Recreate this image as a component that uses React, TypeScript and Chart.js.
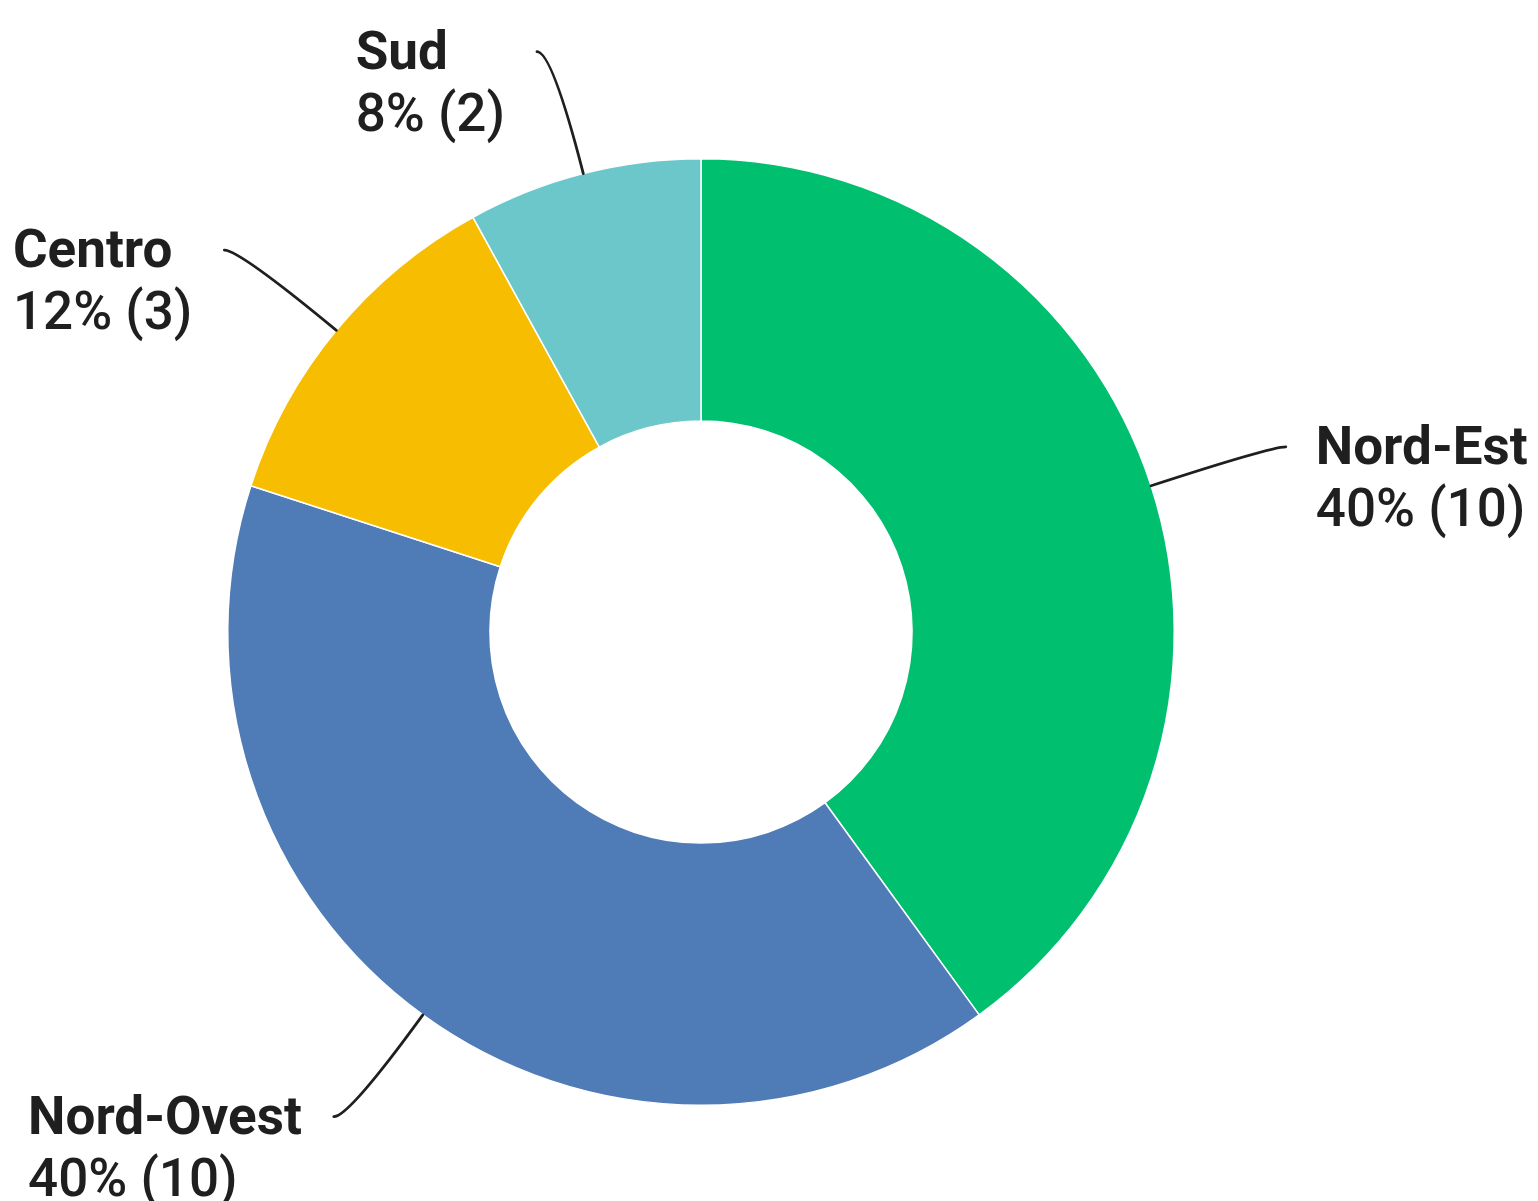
import React, { useEffect, useRef } from "react";
import { Chart, registerables } from "chart.js";

Chart.register(...registerables);

const categories = ["Nord-Est", "Nord-Ovest", "Centro", "Sud"];
const values = [10, 10, 3, 2];
const colors = ["#00BF6F", "#4F7BB6", "#F7BD00", "#6CC7CB"];

const FONT = "Roboto, 'Noto Sans', sans-serif";
const SIZE = 53;

const leaderPlugin = {
  id: "leaderLabels",
  afterDraw(chart: any) {
    const ctx = chart.ctx as CanvasRenderingContext2D;
    const meta = chart.getDatasetMeta(0);
    const data = chart.data.datasets[0].data as number[];
    const total = data.reduce((a, b) => a + b, 0);
    meta.data.forEach((arc: any, i: number) => {
      const { x, y, startAngle, endAngle, outerRadius } = arc.getProps(
        ["x", "y", "startAngle", "endAngle", "outerRadius"],
        true
      );
      const mid = (startAngle + endAngle) / 2;
      const dx = Math.cos(mid);
      const dy = Math.sin(mid);
      const side = dx >= 0 ? 1 : -1;
      const R = outerRadius;
      const rE = R * 1.266;
      const p0x = x + R * dx;
      const p0y = y + R * dy;
      const cx = x + rE * dx;
      const cy = y + rE * dy;
      const p2x = cx + side * 15;
      const p2y = cy;
      ctx.save();
      ctx.strokeStyle = "#1f1f1f";
      ctx.lineWidth = 2.8;
      ctx.lineCap = "round";
      ctx.beginPath();
      ctx.moveTo(p0x, p0y);
      ctx.quadraticCurveTo(cx, cy, p2x, p2y);
      ctx.stroke();

      const line1 = String(chart.data.labels[i]);
      const pct = Math.round((data[i] / total) * 100);
      const line2 = `${pct}% (${data[i]})`;
      ctx.fillStyle = "#1f1f1f";
      ctx.textBaseline = "middle";
      ctx.textAlign = "left";
      ctx.font = `700 ${SIZE}px ${FONT}`;
      const w1 = ctx.measureText(line1).width;
      ctx.font = `500 ${SIZE}px ${FONT}`;
      const w2 = ctx.measureText(line2).width;
      const bw = Math.max(w1, w2);
      const tx = side > 0 ? p2x + 30 : p2x - 32 - bw;
      ctx.font = `700 ${SIZE}px ${FONT}`;
      ctx.fillText(line1, tx, p2y + 4);
      ctx.font = `500 ${SIZE}px ${FONT}`;
      ctx.fillText(line2, tx, p2y + 66);
      ctx.restore();
    });
  },
};

export default function App() {
  const ref = useRef<HTMLCanvasElement>(null);
  useEffect(() => {
    if (!ref.current) return;
    const chart = new Chart(ref.current, {
      type: "doughnut",
      data: {
        labels: categories,
        datasets: [
          {
            data: values,
            backgroundColor: colors,
            borderColor: "#ffffff",
            borderWidth: 1.5,
          },
        ],
      },
      options: {
        responsive: false,
        animation: false,
        cutout: "44.6%",
        layout: { padding: { left: 227, top: 158, right: 363, bottom: 95 } },
        plugins: {
          legend: { display: false },
          tooltip: { enabled: false },
        },
      },
      plugins: [leaderPlugin],
    });
    return () => chart.destroy();
  }, []);
  return (
    <div style={{ position: "absolute", left: 0, top: 0, width: 1538, height: 1201, background: "#fff" }}>
      <canvas ref={ref} width={1538} height={1201} style={{ width: 1538, height: 1201 }} />
    </div>
  );
}
